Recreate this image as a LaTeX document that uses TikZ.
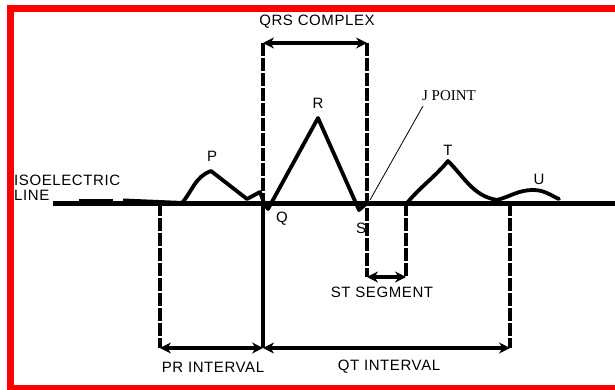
\documentclass[tikz,border=0pt]{standalone}
\usepackage{fontspec}
\setmainfont[LetterSpace=4]{Liberation Sans}
\newfontfamily\jfont{Liberation Serif}
\usepackage{tikz}
\usetikzlibrary{arrows.meta, positioning}
\tikzstyle{wave} = [line width=3.8pt, line join=round, line cap=round]
\tikzstyle{isoline} = [line width=5pt]
\tikzstyle{guide} = [line width=3.3pt, dash pattern=on 13pt off 2pt]
\tikzstyle{arrow} = [line width=3.3pt,
    {Stealth[length=11pt,width=11pt]}-{Stealth[length=11pt,width=11pt]}]
\tikzstyle{lbl} = [inner sep=0pt, font=\fontsize{15}{15}\selectfont]

\begin{document}
\begin{tikzpicture}[x=1pt, y=1pt]
  \useasboundingbox (0,0) rectangle (615,-390);
  \draw[red, line width=7pt] (10.5,-9) rectangle (640,-388.5);

  % points of the trace
  \coordinate (iso0) at (53,-203);
  \coordinate (iso1) at (615,-203);
  \coordinate (pon) at (182,-203);
  \coordinate (ppk) at (211,-171);
  \coordinate (poff) at (247,-199);
  \coordinate (bump) at (260,-192);
  \coordinate (qon) at (264,-203);
  \coordinate (qpk) at (268,-209);
  \coordinate (rpk) at (318,-118);
  \coordinate (spk) at (359,-210);
  \coordinate (jpt) at (367,-203);
  \coordinate (ton) at (407,-203);
  \coordinate (tpk) at (448,-161);
  \coordinate (toff) at (497,-200);
  \coordinate (upk) at (533,-190);
  \coordinate (uoff) at (559,-199);

  % guide lines
  \coordinate (prA) at (160,-203);
  \coordinate (prB) at (160,-348);
  \coordinate (qA) at (263,-43);
  \coordinate (qB) at (263,-203);
  \coordinate (qC) at (263,-348);
  \coordinate (jA) at (367,-43);
  \coordinate (jB) at (367,-277);
  \coordinate (stA) at (406,-203);
  \coordinate (stB) at (406,-277);
  \coordinate (qtA) at (510,-203);
  \coordinate (qtB) at (510,-348);

  \draw[guide] (prA) -- (prB);
  \draw[guide] (qA) -- (qB);
  \draw[line width=3.3pt] (qB) -- (qC);
  \draw[guide] (jA) -- (jB);
  \draw[guide] (stA) -- (stB);
  \draw[guide] (qtA) -- (qtB);

  \draw[arrow] (qA) -- (jA);
  \draw[arrow] (jB) -- (stB);
  \draw[arrow] (prB) -- (qC);
  \draw[arrow] (qC) -- (qtB);

  % isoelectric line
  \draw[isoline] (iso0) -- (iso1);
  \draw[line width=4pt] (79,-200.5) -- (113,-200.5);
  \draw[line width=4pt] (123,-200.5) -- (pon);

  % trace
  \draw[wave] (pon) to[out=50,in=200] (ppk) -- (poff) -- (bump) -- (qon)
    -- (qpk) -- (rpk) -- (spk) -- (jpt);
  \draw[wave] (ton) to[out=50,in=230] (tpk) to[out=-45,in=170] (toff)
    to[out=15,in=180] (upk) to[out=0,in=155] (uoff);

  % labels
  \node[lbl] (plbl) at (212,-156) {P};
  \node[lbl] (rlbl) at (318,-103) {R};
  \node[lbl] (qlbl) at (282,-219) {Q};
  \node[lbl] (slbl) at (361,-228) {S};
  \node[lbl] (tlbl) at (448,-150) {T};
  \node[lbl] (ulbl) at (539,-179) {U};
  \node[lbl, anchor=west] (iso) at (14,-180) {ISOELECTRIC};
  \node[lbl, anchor=west] (line) at (14,-195) {LINE};
  \node[lbl] (qrs) at (317,-22) {QRS COMPLEX};
  \node[lbl] (st) at (382,-292) {ST SEGMENT};
  \node[lbl] (pr) at (213,-367) {PR INTERVAL};
  \node[lbl] (qt) at (389,-367) {QT INTERVAL};
  \node[inner sep=0pt, font=\jfont\fontsize{15}{15}\selectfont] (jlbl) at (449,-96) {J POINT};
  \coordinate (jlead) at (423,-106);
  \draw[line width=0.8pt] (jlead) -- (370,-200);
\end{tikzpicture}
\end{document}
